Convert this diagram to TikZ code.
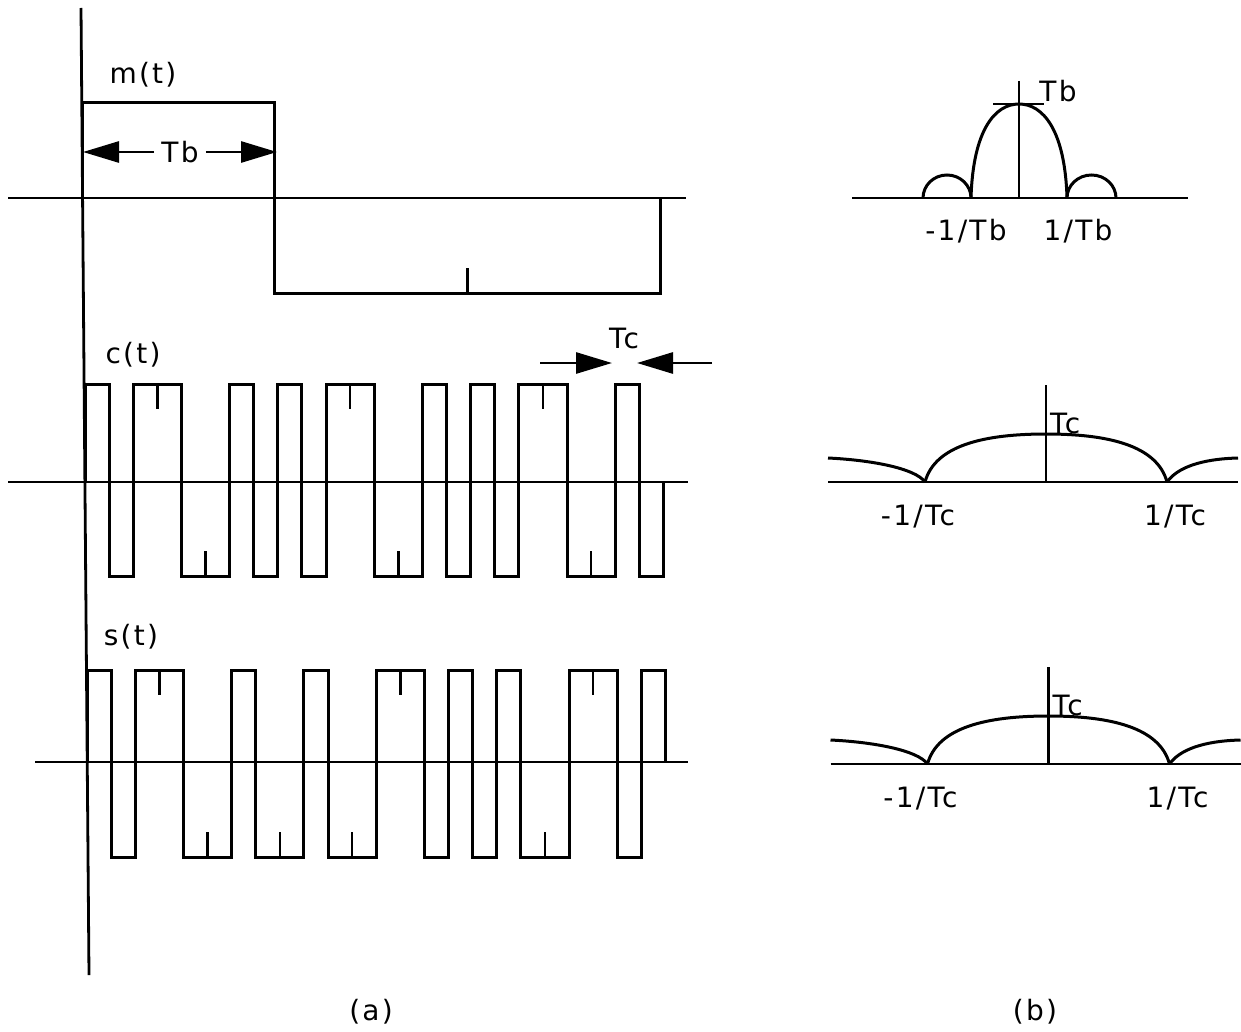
\documentclass[tikz,border=0pt]{standalone}
\usepackage{fontspec}
\setmainfont{DejaVu Sans}[LetterSpace=8]
\usetikzlibrary{arrows.meta}

\tikzset{
  wave/.style={line width=3pt, line join=miter},
  axisline/.style={line width=2.8pt},
  tickmark/.style={line width=2.4pt},
  lbl/.style={font=\fontsize{28}{31}\selectfont, inner sep=0pt},
  dimarrow/.style={line width=2.8pt, -{Triangle[length=36pt,width=21pt]}},
}

\begin{document}
\begin{tikzpicture}[x=1pt,y=-1pt]
  \useasboundingbox (0,0) rectangle (1241,1032);

  % time axes
  \draw[axisline] (81,8) -- (89,975);
  \draw[axisline] (8,198) -- (686,198);
  \draw[axisline] (8,482) -- (688,482);
  \draw[axisline] (35,762) -- (688,762);

  % m(t)
  \begin{scope}[xshift=82pt, x=24.1pt]
    \draw[wave] (0,198) -- (0,103) -- (8,103) -- (8,293) -- (24,293) -- (24,198);
    \draw[tickmark] (16,293) -- (16,268);
  \end{scope}
  \node[lbl] (mt) at (143,75) {m(t)};
  \node[lbl, inner sep=7pt] (tb) at (180,152) {Tb};
  \coordinate (tbL) at (83,152);
  \coordinate (tbR) at (277,152);
  \draw[dimarrow] (tb) -- (tbL);
  \draw[dimarrow] (tb) -- (tbR);

  % c(t)
  \begin{scope}[xshift=85pt, x=24.1pt]
    \draw[wave] (0,482) -- (0,384) -- (1,384) -- (1,576) -- (2,576) -- (2,384) -- (4,384) -- (4,576)
      -- (6,576) -- (6,384) -- (7,384) -- (7,576) -- (8,576) -- (8,384) -- (9,384) -- (9,576)
      -- (10,576) -- (10,384) -- (12,384) -- (12,576) -- (14,576) -- (14,384) -- (15,384) -- (15,576)
      -- (16,576) -- (16,384) -- (17,384) -- (17,576) -- (18,576) -- (18,384) -- (20,384) -- (20,576)
      -- (22,576) -- (22,384) -- (23,384) -- (23,576) -- (24,576) -- (24,482);
    \foreach \k in {3,11,19} \draw[tickmark] (\k,384) -- (\k,409);
    \foreach \k in {5,13,21} \draw[tickmark] (\k,576) -- (\k,551);
  \end{scope}
  \node[lbl] (ct) at (133,355) {c(t)};
  \node[lbl] (tc) at (624,338) {Tc};
  \coordinate (tcA) at (540,363);
  \coordinate (tcB) at (612,363);
  \coordinate (tcC) at (712,363);
  \coordinate (tcD) at (637,363);
  \draw[dimarrow] (tcA) -- (tcB);
  \draw[dimarrow] (tcC) -- (tcD);

  % s(t)
  \begin{scope}[xshift=87pt, x=24.1pt]
    \draw[wave] (0,762) -- (0,670) -- (1,670) -- (1,857) -- (2,857) -- (2,670) -- (4,670) -- (4,857)
      -- (6,857) -- (6,670) -- (7,670) -- (7,857) -- (9,857) -- (9,670) -- (10,670) -- (10,857)
      -- (12,857) -- (12,670) -- (14,670) -- (14,857) -- (15,857) -- (15,670) -- (16,670) -- (16,857)
      -- (17,857) -- (17,670) -- (18,670) -- (18,857) -- (20,857) -- (20,670) -- (22,670) -- (22,857)
      -- (23,857) -- (23,670) -- (24,670) -- (24,762);
    \foreach \k in {3,13,21} \draw[tickmark] (\k,670) -- (\k,695);
    \foreach \k in {5,8,11,19} \draw[tickmark] (\k,857) -- (\k,832);
  \end{scope}
  \node[lbl] (st) at (131,637) {s(t)};

  % spectrum of m(t)
  \draw[axisline] (852,198) -- (1188,198);
  \draw[axisline] (1019,81) -- (1019,198);
  \draw[axisline] (993,104) -- (1044,104);
  \draw[wave] (971,198) .. controls (973,130) and (995,104) .. (1019,104)
    .. controls (1043,104) and (1065,130) .. (1067,198);
  \draw[wave] (923,198) arc[start angle=180, end angle=0, x radius=24pt, y radius=23pt];
  \draw[wave] (1067,198) arc[start angle=180, end angle=0, x radius=24.5pt, y radius=23pt];
  \node[lbl] (mpeak) at (1058,91) {Tb};
  \node[lbl] (mlo) at (966,231) {-1/Tb};
  \node[lbl] (mhi) at (1078,231) {1/Tb};

  % spectra of c(t) and s(t)
  \foreach \dx/\dy/\nm in {0/0/c, 2.5/282/s} {
    \begin{scope}[shift={(\dx,\dy)}]
      \draw[axisline] (828,482) -- (1238,482);
      \draw[axisline] (1046,385) -- (1046,482);
      \draw[wave] (925,482) .. controls (935,445) and (985,434) .. (1046,434)
        .. controls (1107,434) and (1157,445) .. (1167,482);
      \draw[wave] (828,458) .. controls (870,460) and (915,468) .. (925,482);
      \draw[wave] (1167,482) .. controls (1177,468) and (1200,459) .. (1238,458);
      \node[lbl, anchor=west] (\nm peak) at (1050,423) {Tc};
      \node[lbl] (\nm lo) at (918,517) {-1/Tc};
      \node[lbl] (\nm hi) at (1175,517) {1/Tc};
    \end{scope}
  }

  \node[lbl] (capa) at (371,1012) {(a)};
  \node[lbl] (capb) at (1035,1012) {(b)};
\end{tikzpicture}
\end{document}
